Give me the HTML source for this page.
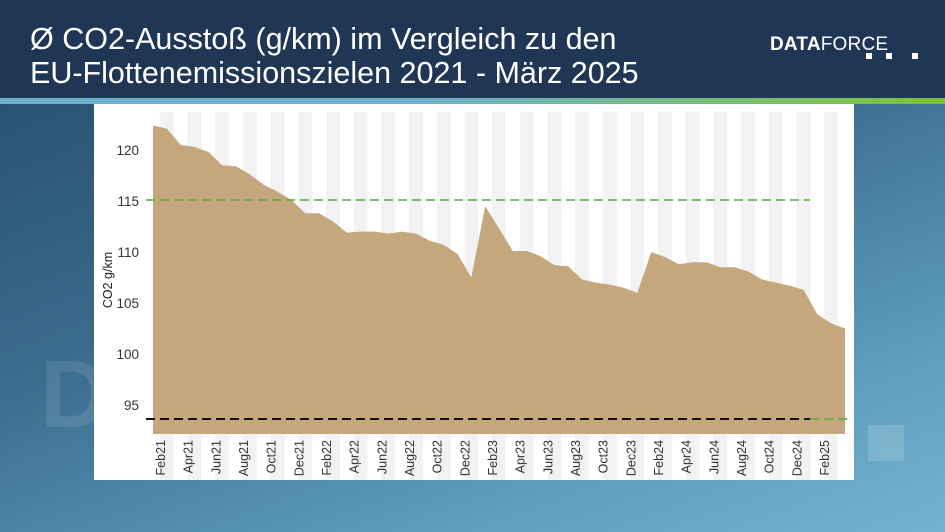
<!DOCTYPE html>
<html><head><meta charset="utf-8"><style>
html,body{margin:0;padding:0;width:945px;height:532px;overflow:hidden;font-family:"Liberation Sans",sans-serif}
#bg{position:absolute;left:0;top:0;width:945px;height:532px;background:linear-gradient(160deg,#24486a 0%,#3a6d8e 45%,#5f9fbf 80%,#74b3cf 100%)}
#hdr{position:absolute;left:0;top:0;width:945px;height:98px;background:#1f3655}
#bar{position:absolute;left:0;top:98px;width:945px;height:6px;background:linear-gradient(90deg,#6fb2cf 0%,#6fb2cf 45%,#7cc531 100%)}
#title{position:absolute;left:30px;top:22px;color:#fff;font-size:30.5px;line-height:34px;white-space:nowrap}
#logo{position:absolute;left:770px;top:34px;color:#fff;font-size:19px;letter-spacing:0.2px}
.sq{position:absolute;width:6px;height:6px;background:#fff;top:53px}
svg{position:absolute;left:0;top:0}
</style></head><body>
<div id="bg"></div>
<div style="position:absolute;left:40px;top:340px;font-size:96px;font-weight:bold;color:rgba(255,255,255,0.1)">D</div>
<div style="position:absolute;left:868px;top:425px;width:36px;height:36px;background:rgba(255,255,255,0.15)"></div>
<div id="hdr"></div><div id="bar"></div>
<div id="title">Ø CO2-Ausstoß (g/km) im Vergleich zu den<br>EU-Flottenemissionszielen 2021 - März 2025</div>
<div id="logo"><b>DATA</b>FORCE</div>
<div class="sq" style="left:866px"></div><div class="sq" style="left:886px"></div><div class="sq" style="left:912px"></div>
<svg id="s" width="945" height="532" xmlns="http://www.w3.org/2000/svg"></svg>
<script>
var s=document.getElementById('s'),h='';
h+='<rect x="94" y="104" width="760" height="376" fill="#fff"/>';
var x0=153,dx=13.84;
function X(i){return x0+i*dx;}
function Y(v){return 150+(120-v)*10.2;}
for(var k=0;k<25;k++){h+='<rect x="'+(160+k*27.67)+'" y="112" width="13.8" height="368" fill="#f2f2f2"/>';}
var d=[122.4,122.1,120.5,120.3,119.8,118.5,118.4,117.6,116.6,115.9,115.1,113.8,113.8,113.0,111.9,112.0,112.0,111.8,112.0,111.8,111.1,110.7,109.8,107.5,114.5,112.3,110.1,110.1,109.6,108.7,108.6,107.3,107.0,106.8,106.5,106.0,110.0,109.5,108.8,109.0,109.0,108.5,108.5,108.1,107.3,107.0,106.7,106.3,103.9,103.0,102.5];
var p=X(0)+',434 ';
for(var i=0;i<d.length;i++)p+=X(i).toFixed(1)+','+Y(d[i]).toFixed(1)+' ';
p+=X(d.length-1)+',434';
h+='<polygon points="'+p+'" fill="#c4a77c"/>';
h+='<line x1="146" y1="200" x2="810" y2="200" stroke="#5aa83a" stroke-width="1.6" stroke-dasharray="9,5"/>';
h+='<line x1="146" y1="419" x2="810" y2="419" stroke="#111" stroke-width="2" stroke-dasharray="9,5"/>';
h+='<line x1="810" y1="419" x2="851" y2="419" stroke="#6bb04a" stroke-width="2" stroke-dasharray="9,5"/>';
[120,115,110,105,100,95].forEach(function(v){h+='<text x="139" y="'+(Y(v)+5)+'" font-size="13.5" fill="#333" text-anchor="end" font-family="Liberation Sans">'+v+'</text>';});
h+='<text transform="translate(112,280) rotate(-90)" font-size="12.5" fill="#222" text-anchor="middle" font-family="Liberation Sans">CO2 g/km</text>';
var m=['Feb','Apr','Jun','Aug','Oct','Dec'];
for(var k=0;k<25;k++){var lab=m[k%6]+(21+Math.floor(k/6));var x=160+k*27.67+5;
h+='<text transform="translate('+x+',440) rotate(-90)" font-size="12.5" fill="#333" text-anchor="end" font-family="Liberation Sans">'+lab+'</text>';}
s.innerHTML=h;
</script>
</body></html>
